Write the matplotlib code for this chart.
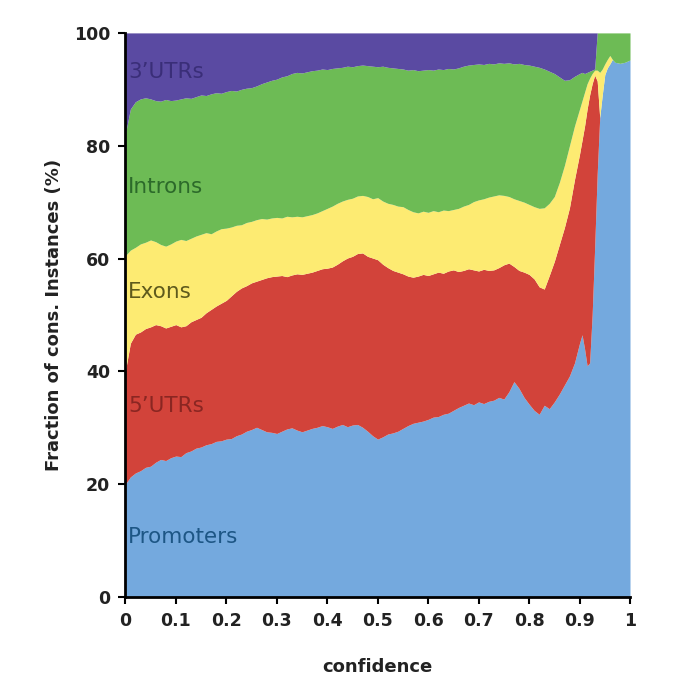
#!/usr/bin/env python3
# -*- coding: utf-8 -*-
"""Stacked fractions of conserved instances by region vs confidence."""

import numpy as np
import matplotlib
matplotlib.use("Agg")
import matplotlib.pyplot as plt

# confidence grid: 0.00..0.90 every 0.01, finer near the right end
conf = list(np.round(np.arange(0, 0.905, 0.01), 2)) + [
    0.905, 0.91, 0.915, 0.92, 0.925, 0.93, 0.935, 0.94, 0.945,
    0.95, 0.955, 0.96, 0.965, 0.97, 0.98, 0.99, 1.00]

# cumulative upper edge of each region (%)
promoters_top = [
    20.0, 21.3, 22.0, 22.4, 23.0, 23.2, 23.9, 24.4, 24.2, 24.7,
    25.0, 24.9, 25.6, 25.9, 26.4, 26.6, 27.0, 27.2, 27.6, 27.7,
    28.0, 28.1, 28.6, 28.9, 29.4, 29.7, 30.1, 29.7, 29.3, 29.2,
    29.0, 29.4, 29.8, 30.0, 29.6, 29.3, 29.6, 29.9, 30.1, 30.4,
    30.2, 29.9, 30.3, 30.6, 30.2, 30.5, 30.6, 30.1, 29.4, 28.6,
    28.0, 28.4, 28.9, 29.1, 29.4, 29.9, 30.4, 30.8, 31.0, 31.2,
    31.5, 31.9, 32.0, 32.4, 32.6, 33.1, 33.6, 34.0, 34.4, 34.1,
    34.6, 34.3, 34.7, 34.9, 35.4, 35.1, 36.4, 38.2, 37.0, 35.4,
    34.2, 33.1, 32.4, 34.0, 33.4, 34.6, 36.0, 37.6, 39.2, 41.5,
    45.0,
    46.5, 44.0, 41.0, 41.5, 50.0, 62.0, 75.0, 85.0, 89.0,
    92.6, 93.8, 94.5, 95.3, 94.8, 94.6, 94.8, 95.2]

utr5_top = [
    40.0, 45.0, 46.6, 47.0, 47.6, 47.9, 48.3, 48.1, 47.7, 48.0,
    48.3, 47.9, 48.1, 48.8, 49.2, 49.6, 50.4, 51.0, 51.6, 52.1,
    52.6, 53.4, 54.2, 54.8, 55.2, 55.7, 56.0, 56.3, 56.6, 56.8,
    56.9, 57.0, 56.8, 57.1, 57.3, 57.2, 57.4, 57.6, 57.9, 58.2,
    58.3, 58.5, 59.0, 59.6, 60.1, 60.4, 60.9, 61.0, 60.4, 60.1,
    59.8, 59.0, 58.4, 57.9, 57.6, 57.3, 56.9, 56.7, 56.9, 57.2,
    57.0, 57.3, 57.6, 57.4, 57.8, 58.0, 57.7, 57.9, 58.2, 58.0,
    57.8, 58.1, 57.9, 58.0, 58.4, 58.9, 59.2, 58.6, 57.9, 57.6,
    57.2, 56.4, 55.0, 54.6, 57.0, 59.5, 62.5, 65.5, 69.0, 74.0,
    78.5,
    81.0, 83.5, 86.5, 89.0, 91.0, 92.5, 91.5, 85.0, 89.0,
    92.6, 93.8, 94.5, 95.3, 94.8, 94.6, 94.8, 95.2]

exons_top = [
    60.5, 61.5, 62.0, 62.6, 62.9, 63.3, 63.0, 62.5, 62.2, 62.6,
    63.1, 63.4, 63.2, 63.6, 64.0, 64.3, 64.6, 64.4, 64.9, 65.3,
    65.4, 65.6, 65.9, 66.0, 66.4, 66.6, 66.9, 67.1, 67.0, 67.2,
    67.3, 67.2, 67.5, 67.4, 67.5, 67.4, 67.6, 67.8, 68.1, 68.5,
    68.9, 69.3, 69.8, 70.2, 70.5, 70.7, 71.1, 71.2, 71.0, 70.6,
    70.8, 70.2, 69.8, 69.6, 69.3, 69.2, 68.7, 68.3, 68.1, 68.4,
    68.2, 68.5, 68.3, 68.6, 68.5, 68.7, 68.9, 69.3, 69.6, 70.1,
    70.4, 70.6, 70.9, 71.1, 71.3, 71.2, 71.0, 70.6, 70.3, 70.0,
    69.6, 69.2, 68.9, 69.0, 69.8, 71.0, 73.5, 76.5, 80.0, 83.5,
    86.5,
    88.0, 89.5, 91.0, 92.0, 92.8, 93.4, 93.4, 93.0, 93.6,
    94.5, 95.3, 96.0, 95.3, 94.8, 94.6, 94.8, 95.2]

introns_top = [
    82.0, 86.5, 87.8, 88.3, 88.5, 88.3, 88.0, 87.9, 88.2, 88.0,
    88.1, 88.3, 88.5, 88.4, 88.7, 89.0, 88.9, 89.2, 89.4, 89.3,
    89.6, 89.8, 89.7, 90.0, 90.2, 90.3, 90.6, 91.0, 91.3, 91.6,
    91.8, 92.2, 92.4, 92.8, 93.0, 92.9, 93.1, 93.3, 93.4, 93.6,
    93.5, 93.7, 93.8, 93.9, 94.1, 94.0, 94.2, 94.3, 94.2, 94.1,
    94.0, 94.1, 93.9, 93.8, 93.7, 93.6, 93.4, 93.5, 93.3, 93.4,
    93.5, 93.4, 93.6, 93.5, 93.7, 93.6, 93.8, 94.1, 94.3, 94.4,
    94.5, 94.4, 94.6, 94.5, 94.7, 94.6, 94.7, 94.5, 94.6, 94.4,
    94.3, 94.1, 93.9, 93.6, 93.2, 92.8, 92.2, 91.6, 91.7, 92.3,
    92.8,
    93.0, 92.8, 93.0, 93.2, 93.4, 93.6, 100, 100, 100,
    100, 100, 100, 100, 100, 100, 100, 100]

utr3_top = [100.0] * len(conf)

regions = ["Promoters", "5\u2019UTRs", "Exons", "Introns", "3\u2019UTRs"]
fills = ["#74a9de", "#d2433a", "#fdeb72", "#6dbb55", "#5a4aa2"]
label_colors = ["#1d5685", "#8a2622", "#5e5a1c", "#2c6a2a", "#3a2e78"]
label_y = [10.6, 33.9, 54.0, 72.7, 93.0]

edges = [promoters_top, utr5_top, exons_top, introns_top, utr3_top]

fig = plt.figure(figsize=(7, 7), dpi=100)
ax = fig.add_axes([0.179, 0.147, 0.721, 0.806])

x = np.array(conf)
lower = np.zeros(len(conf))
for top, col in zip(edges, fills):
    top = np.array(top)
    ax.fill_between(x, lower, top, color=col, linewidth=0, zorder=1)
    lower = top

for name, yv, c in zip(regions, label_y, label_colors):
    ax.text(0.006, yv, name, color=c, fontsize=15.5, va="center", ha="left",
            zorder=3)

ax.set_xlim(0, 1)
ax.set_ylim(0, 100)
ax.set_xticks(np.round(np.arange(0, 1.01, 0.1), 1))
ax.set_xticklabels(["0", "0.1", "0.2", "0.3", "0.4", "0.5", "0.6", "0.7",
                    "0.8", "0.9", "1"])
ax.set_yticks([0, 20, 40, 60, 80, 100])
for lab in ax.get_xticklabels() + ax.get_yticklabels():
    lab.set_fontweight("bold")
    lab.set_fontsize(12.5)
    lab.set_color("#222222")

ax.spines["top"].set_visible(False)
ax.spines["right"].set_visible(False)
ax.spines["left"].set_linewidth(2)
ax.spines["bottom"].set_linewidth(2)
ax.spines["left"].set_zorder(4)
ax.spines["bottom"].set_zorder(4)
ax.tick_params(direction="out", length=5, width=1.5, pad=6)

ax.set_xlabel("confidence", fontsize=13, fontweight="bold", labelpad=20,
              color="#222222")
ax.set_ylabel("Fraction of cons. Instances (%)", fontsize=13,
              fontweight="bold", labelpad=8, color="#222222")

fig.savefig("out.png", dpi=100)
